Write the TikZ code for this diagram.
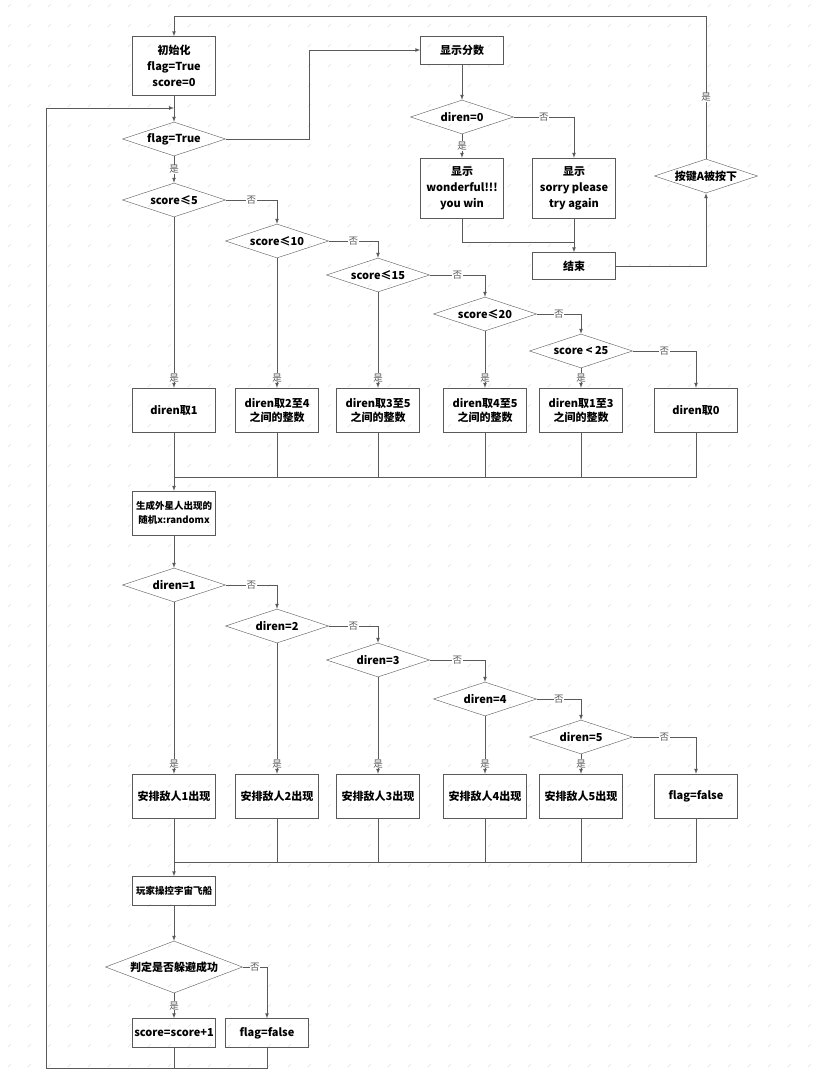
\documentclass[tikz,border=0pt]{standalone}
\usepackage{fontspec}
\setmainfont{Noto Sans CJK SC}
\usepackage{xcolor}
\usepackage{tikz}
\usetikzlibrary{calc}
\usetikzlibrary{shapes.geometric}

\definecolor{linec}{HTML}{5A5A5A}
\definecolor{tickc}{HTML}{E2E2E2}
\tikzset{
	box/.style={draw=linec, rectangle, minimum width=83pt, minimum height=44pt, align=center, inner sep=1pt, font=\bfseries\fontsize{11}{16}\selectfont},
	smallbox/.style={box, font=\bfseries\fontsize{9.5}{15}\selectfont},
	cond/.style={draw=linec, diamond, aspect=3, inner sep=0pt, minimum width=103pt, minimum height=34pt, font=\bfseries\fontsize{11}{13}\selectfont},
	lbl/.style={fill=white, inner sep=0.5pt, text=linec, font=\fontsize{9.5}{10}\selectfont},
	yes/.style={lbl, pos=1, anchor=south, yshift=5pt},
	arr/.style={-latex, linec, line width=0.7pt},
	ln/.style={linec, line width=0.7pt}
}

\begin{document}
\begin{tikzpicture}[x=1pt,y=-1pt]
	\useasboundingbox (0,0) rectangle (822,1083);
	\fill[white] (0,0) rectangle (822,1083);
	% faint background ticks
	\foreach \i in {0,...,40}
		\foreach \j in {0,...,53}
			\draw[tickc, line width=0.4pt] (\i*20+8,\j*20+7) -- ++(3,-3);

	% start and end
	\node[box, minimum height=59pt] (init) at (174,66) {初始化\\flag=True\\score=0};
	\node[cond] (fT) at (174,139) {flag=True};
	\node[box, minimum height=28pt] (show) at (462,50) {显示分数};
	\node[cond] (dz) at (462,117) {diren=0};
	\node[box, minimum height=60pt] (win) at (462,188) {显示\\wonderful!!!\\you win};
	\node[box, minimum height=60pt] (lose) at (574,188) {显示\\sorry please\\try again};
	\node[box, minimum height=27pt] (end) at (574,266) {结束};
	\node[cond] (key) at (706,176) {按键A被按下};

	% score tests
	\node[cond] (s5) at (174,200) {score≤5};
	\node[cond] (s10) at (277,241) {score≤10};
	\node[cond] (s15) at (378,275) {score≤15};
	\node[cond] (s20) at (485,314) {score≤20};
	\node[cond] (s25) at (581,351) {score < 25};
	\node[box] (t1) at (174,410) {diren取1};
	\node[box] (t2) at (277,410) {diren取2至4\\[-2pt]之间的整数};
	\node[box] (t3) at (378,410) {diren取3至5\\[-2pt]之间的整数};
	\node[box] (t4) at (485,410) {diren取4至5\\[-2pt]之间的整数};
	\node[box] (t5) at (581,410) {diren取1至3\\[-2pt]之间的整数};
	\node[box] (t0) at (696,410) {diren取0};

	\node[smallbox] (gen) at (174,513) {生成外星人出现的\\[-1pt]随机x:randomx};

	% enemy tests
	\node[cond] (e1) at (174,585) {diren=1};
	\node[cond] (e2) at (277,626) {diren=2};
	\node[cond] (e3) at (378,660) {diren=3};
	\node[cond] (e4) at (485,699) {diren=4};
	\node[cond] (e5) at (581,737) {diren=5};
	\node[box] (a1) at (174,796) {安排敌人1出现};
	\node[box] (a2) at (277,796) {安排敌人2出现};
	\node[box] (a3) at (378,796) {安排敌人3出现};
	\node[box] (a4) at (485,796) {安排敌人4出现};
	\node[box] (a5) at (581,796) {安排敌人5出现};
	\node[box] (over) at (696,796) {flag=false};

	\node[smallbox, minimum height=29pt] (ctrl) at (174,891) {玩家操控宇宙飞船};
	\node[cond, minimum width=137pt, minimum height=52pt] (judge) at (174,967) {判定是否躲避成功};
	\node[box, minimum height=29pt] (inc) at (174,1033) {score=score+1};
	\node[box, minimum height=29pt] (fail) at (267,1033) {flag=false};

	\coordinate (m0) at (574,242);
	\coordinate (m1) at (174,477);
	\coordinate (m2) at (174,862);
	\coordinate (m3) at (46,1068);
	\coordinate (back) at (174,108);

	% top part
	\draw[arr] (init) -- (fT);
	\draw[arr] (fT.east) -- ++(84,0) |- (show);
	\draw[arr] (fT) -- node[lbl]{是} (s5);
	\draw[arr] (show) -- (dz);
	\draw[arr] (dz) -- node[lbl]{是} (win);
	\draw[arr] (dz.east) -| node[lbl,pos=.25]{否} (lose);
	\draw[ln] (win) |- (m0);
	\draw[arr] (lose) -- (end);
	\draw[arr] (end) -| (key);
	\draw[arr] (key) -- node[lbl,pos=.43]{是} ++(0,-160) -| (init);

	% score chain
	\draw[arr] (s5) -- node[yes]{是} (t1);
	\draw[arr] (s10) -- node[yes]{是} (t2);
	\draw[arr] (s15) -- node[yes]{是} (t3);
	\draw[arr] (s20) -- node[yes]{是} (t4);
	\draw[arr] (s25) -- node[yes]{是} (t5);
	\draw[arr] (s5.east) -| node[lbl,pos=.25]{否} (s10);
	\draw[arr] (s10.east) -| node[lbl,pos=.25]{否} (s15);
	\draw[arr] (s15.east) -| node[lbl,pos=.25]{否} (s20);
	\draw[arr] (s20.east) -| node[lbl,pos=.25]{否} (s25);
	\draw[arr] (s25.east) -| node[lbl,pos=.25]{否} (t0);
	\foreach \n in {t2,t3,t4,t5,t0}
		\draw[ln] (\n) |- (m1);
	\draw[arr] (t1) -- (gen);
	\draw[arr] (gen) -- (e1);

	% enemy chain
	\draw[arr] (e1) -- node[yes]{是} (a1);
	\draw[arr] (e2) -- node[yes]{是} (a2);
	\draw[arr] (e3) -- node[yes]{是} (a3);
	\draw[arr] (e4) -- node[yes]{是} (a4);
	\draw[arr] (e5) -- node[yes]{是} (a5);
	\draw[arr] (e1.east) -| node[lbl,pos=.25]{否} (e2);
	\draw[arr] (e2.east) -| node[lbl,pos=.25]{否} (e3);
	\draw[arr] (e3.east) -| node[lbl,pos=.25]{否} (e4);
	\draw[arr] (e4.east) -| node[lbl,pos=.25]{否} (e5);
	\draw[arr] (e5.east) -| node[lbl,pos=.25]{否} (over);
	\foreach \n in {a2,a3,a4,a5,over}
		\draw[ln] (\n) |- (m2);
	\draw[arr] (a1) -- (ctrl);

	% player part and loop back
	\draw[arr] (ctrl) -- (judge);
	\draw[arr] (judge) -- node[lbl]{是} (inc);
	\draw[arr] (judge.east) -| node[lbl,pos=.25]{否} (fail);
	\draw[ln] (fail) |- (m3);
	\draw[ln] (inc) -- (inc |- m3);
	\draw[arr] (m3) |- (back);
\end{tikzpicture}
\end{document}
